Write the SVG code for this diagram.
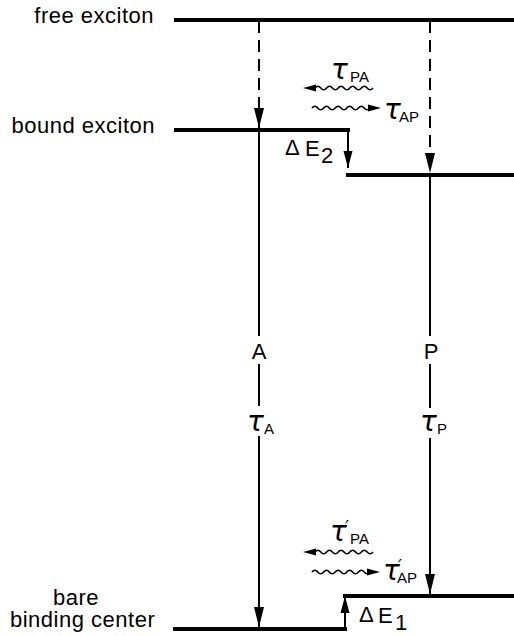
<svg xmlns="http://www.w3.org/2000/svg" width="514" height="636" viewBox="0 0 514 636">
<style>
.lbl{font-family:"Liberation Sans",Arial,sans-serif;font-size:22px;fill:#000;letter-spacing:0.5px}
.big{font-family:"Liberation Sans",Arial,sans-serif;font-size:22px;fill:#000}
.tau{font-family:"DejaVu Sans","Liberation Sans",sans-serif;font-style:italic;font-size:28px;fill:#000}
.pr{font-family:"DejaVu Sans","Liberation Sans",sans-serif;font-style:italic;font-size:17px;fill:#000}
.sub{font-family:"Liberation Sans",Arial,sans-serif;font-size:15px;fill:#000}
.lvl{stroke:#000;stroke-width:4;fill:none}
.tr{stroke:#000;stroke-width:2;fill:none}
.dash{stroke:#000;stroke-width:2;fill:none;stroke-dasharray:12 7}
.wave{stroke:#000;stroke-width:1.6;fill:none}
</style>
<defs>
<marker id="ah" markerUnits="userSpaceOnUse" markerWidth="20" markerHeight="11" viewBox="0 0 20 11" refX="20" refY="5.5" orient="auto">
<path d="M0,0.5 L20,5.5 L0,10.5 Z" fill="#000"/>
</marker>
<marker id="ahs" markerUnits="userSpaceOnUse" markerWidth="17" markerHeight="10" viewBox="0 0 17 10" refX="17" refY="5" orient="auto">
<path d="M0,0.5 L17,5 L0,9.5 Z" fill="#000"/>
</marker>
</defs>

<g id="free-exciton">
<text class="lbl" x="154" y="23" text-anchor="end">free exciton</text>
<path class="lvl" d="M174,20 H514"/>
</g>

<g id="bound-exciton">
<text class="lbl" x="155" y="133" text-anchor="end">bound exciton</text>
<path class="lvl" d="M174,130 H350"/>
<path class="lvl" d="M346,175 H514"/>
</g>

<g id="bare-binding-center">
<text class="lbl" x="76" y="605" text-anchor="middle">bare</text>
<text class="lbl" x="10" y="627">binding center</text>
<path class="lvl" d="M173,629 H347"/>
<path class="lvl" d="M343,596 H514"/>
</g>

<g id="connectors">
<path class="dash" d="M259,21 V128" marker-end="url(#ah)"/>
<path class="dash" d="M430,21 V173" marker-end="url(#ah)"/>
<path class="tr" d="M259,130 V336 M259,364 V406"/>
<path class="tr" d="M259,436 V627" marker-end="url(#ah)"/>
<path class="tr" d="M430,175 V336 M430,364 V408"/>
<path class="tr" d="M430,438 V594" marker-end="url(#ah)"/>
<path class="tr" d="M348,131 V168" stroke-width="2.5" marker-end="url(#ahs)"/>
<path class="tr" d="M345,628 V596" stroke-width="2.5" marker-end="url(#ahs)"/>

<path class="wave" d="M315,88 q2.9,-3.6 5.8,0 t5.8,0 t5.8,0 t5.8,0 t5.8,0 t5.8,0 t5.8,0 t5.8,0 t5.8,0 t5.8,0"/>
<polygon points="303,88 316,84.5 316,91.5" fill="#000"/>
<path class="wave" d="M312,108 q2.9,-3.6 5.8,0 t5.8,0 t5.8,0 t5.8,0 t5.8,0 t5.8,0 t5.8,0 t5.8,0 t5.8,0 t5.8,0"/>
<polygon points="381,108 368,104.5 368,111.5" fill="#000"/>

<path class="wave" d="M315,552 q2.9,-3.6 5.8,0 t5.8,0 t5.8,0 t5.8,0 t5.8,0 t5.8,0 t5.8,0 t5.8,0 t5.8,0 t5.8,0"/>
<polygon points="303,552 316,548.5 316,555.5" fill="#000"/>
<path class="wave" d="M312,572 q2.9,-3.6 5.8,0 t5.8,0 t5.8,0 t5.8,0 t5.8,0 t5.8,0 t5.8,0 t5.8,0 t5.8,0 t5.8,0"/>
<polygon points="380,572 367,568.5 367,575.5" fill="#000"/>
</g>

<g id="labels">
<text class="big" x="259" y="359" text-anchor="middle">A</text>
<text class="big" x="431" y="359" text-anchor="middle">P</text>
<text class="tau" x="247" y="431">τ</text><text class="sub" x="264" y="434">A</text>
<text class="tau" x="420" y="431">τ</text><text class="sub" x="437" y="434">P</text>

<text class="tau" x="331" y="79">τ</text><text class="sub" x="350" y="82">PA</text>
<text class="tau" x="384" y="119">τ</text><text class="sub" x="399" y="122">AP</text>

<text class="tau" x="330" y="541">τ</text><text class="pr" x="345" y="533">′</text><text class="sub" x="350" y="544">PA</text>
<text class="tau" x="383" y="580">τ</text><text class="pr" x="398" y="572">′</text><text class="sub" x="397" y="583">AP</text>

<text class="big" x="285" y="155" font-size="17">Δ</text><text class="big" x="305" y="156">E</text><text class="big" x="321" y="163" font-size="21">2</text>
<text class="big" x="359" y="622" font-size="17">Δ</text><text class="big" x="378" y="623">E</text><text class="big" x="395" y="630" font-size="21">1</text>
</g>
</svg>
